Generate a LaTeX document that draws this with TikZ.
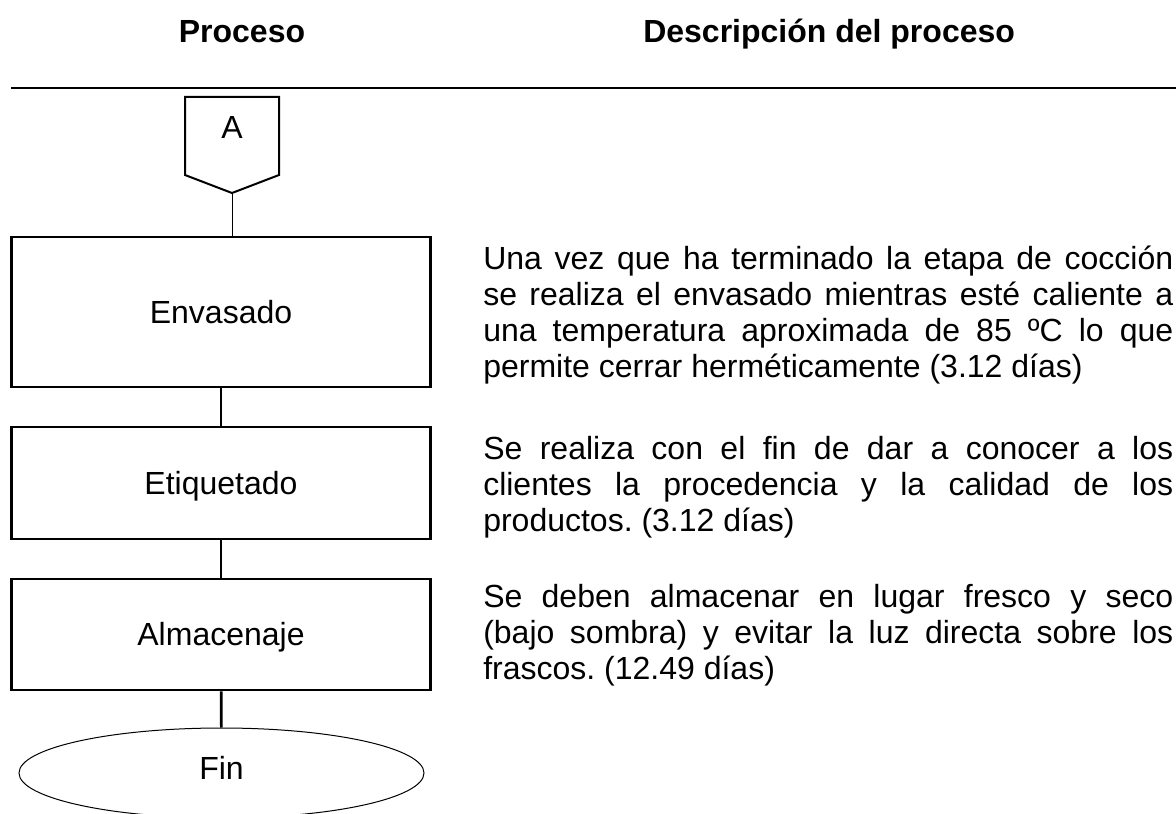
\documentclass[tikz,border=0pt]{standalone}
\usepackage{fontspec}
\setmainfont{Liberation Sans}
\usetikzlibrary{shapes.geometric}
\newcommand{\letra}{\fontsize{24}{27}\selectfont}
\tolerance=10000
\frenchspacing
\begin{document}
\begin{tikzpicture}[x=0.75pt, y=0.75pt,
    every node/.style={font=\letra, inner sep=0pt},
    titulo/.style={font=\letra\bfseries},
    paso/.style={draw, line width=2pt, minimum width=314.25pt, text height=17.2pt, text depth=0pt},
    desc/.style={anchor=base west, text width=517.5pt, align=justify},
    enlace/.style={line width=2pt}]
    \path[use as bounding box] (0,0) rectangle (1176,-813);
    \clip (0,0) rectangle (1176,-813);

    % encabezado
    \node[titulo, anchor=base] (hproceso) at (242,-43) {Proceso};
    \node[titulo, anchor=base west] (hdesc) at (643,-43) {Descripción del proceso};
    \draw[line width=2pt] (11,-88) -- (1176,-88);

    % conector A
    \draw[line width=1.5pt] (185,-97) -- (279,-97) -- (279,-175) -- (232,-193) -- (185,-175) -- cycle;
    \node (letraA) at (232,-127) {A};
    \coordinate (puntaA) at (232,-193);

    % pasos
    \node[paso, minimum height=112.5pt] (envasado) at (221,-312) {Envasado};
    \node[paso, minimum height=84pt] (etiquetado) at (221,-483) {Etiquetado};
    \node[paso, minimum height=83.25pt] (almacenaje) at (221,-634.5) {Almacenaje};
    \node[draw, ellipse, line width=0.75pt, minimum width=303.75pt, minimum height=67.5pt,
          text height=17.2pt, text depth=7.5pt] (fin) at (221.5,-773) {Fin};

    \draw[line width=0.75pt] (puntaA) -- (puntaA |- envasado.north);
    \draw[enlace] (envasado) -- (etiquetado);
    \draw[enlace] (etiquetado) -- (almacenaje);
    \draw[enlace] (almacenaje) -- (fin);

    % descripciones
    \node[desc] (d1) at (483,-269) {Una vez que ha terminado la etapa de cocción\linebreak
      se realiza el envasado mientras esté caliente a\linebreak
      una temperatura aproximada de 85 ºC lo que\linebreak
      permite cerrar herméticamente (3.12 días)};
    \node[desc] (d2) at (483,-459) {Se realiza con el fin de dar a conocer a los\linebreak
      clientes la procedencia y la calidad de los\linebreak
      productos. (3.12 días)};
    \node[desc] (d3) at (483,-607) {Se deben almacenar en lugar fresco y seco\linebreak
      (bajo sombra) y evitar la luz directa sobre los\linebreak
      frascos. (12.49 días)};
\end{tikzpicture}
\end{document}
